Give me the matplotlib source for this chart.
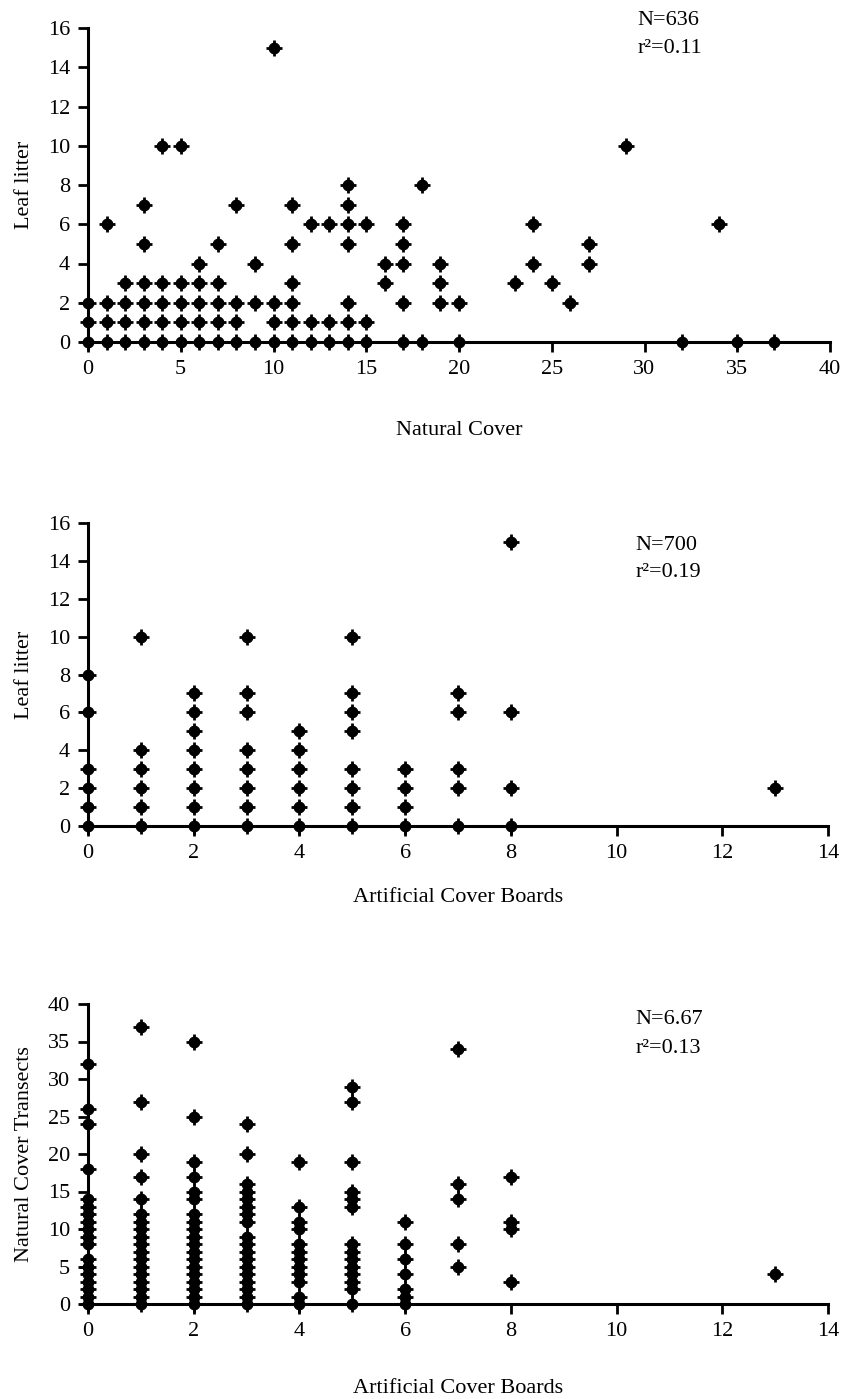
import matplotlib
matplotlib.use("Agg")
import matplotlib.pyplot as plt
import numpy as np

plt.rcParams['font.family'] = ['Liberation Serif', 'DejaVu Serif']

# Panel 1: leaf litter (y) vs natural cover (x); rows keyed by leaf litter value
natural_rows = {
    0: [0, 1, 2, 3, 4, 5, 6, 7, 8, 9, 10, 11, 12, 13, 14, 15, 17, 18, 20, 32, 35, 37],
    1: [0, 1, 2, 3, 4, 5, 6, 7, 8, 10, 11, 12, 13, 14, 15],
    2: [0, 1, 2, 3, 4, 5, 6, 7, 8, 9, 10, 11, 14, 17, 19, 20, 26],
    3: [2, 3, 4, 5, 6, 7, 11, 16, 19, 23, 25],
    4: [6, 9, 16, 17, 19, 24, 27],
    5: [3, 7, 11, 14, 17, 27],
    6: [1, 12, 13, 14, 15, 17, 24, 34],
    7: [3, 8, 11, 14],
    8: [14, 18],
    10: [4, 5, 29],
    15: [10],
}

# Panel 2: leaf litter (y) vs artificial cover boards (x); columns keyed by boards
boards_litter_cols = {
    0: [0, 1, 2, 3, 6, 8],
    1: [0, 1, 2, 3, 4, 10],
    2: [0, 1, 2, 3, 4, 5, 6, 7],
    3: [0, 1, 2, 3, 4, 6, 7, 10],
    4: [0, 1, 2, 3, 4, 5],
    5: [0, 1, 2, 3, 5, 6, 7, 10],
    6: [0, 1, 2, 3],
    7: [0, 2, 3, 6, 7],
    8: [0, 2, 6, 15],
    13: [2],
}

# Panel 3: natural cover transects (y) vs artificial cover boards (x)
boards_natural_cols = {
    0: [0, 1, 2, 3, 4, 5, 6, 8, 9, 10, 11, 12, 13, 14, 18, 24, 26, 32],
    1: [0, 1, 2, 3, 4, 5, 6, 7, 8, 9, 10, 11, 12, 14, 17, 20, 27, 37],
    2: [0, 1, 2, 3, 4, 5, 6, 7, 8, 9, 10, 11, 12, 14, 15, 17, 19, 25, 35],
    3: [0, 1, 2, 3, 4, 5, 6, 7, 8, 9, 11, 12, 13, 14, 15, 16, 20, 24],
    4: [0, 1, 3, 4, 5, 6, 7, 8, 10, 11, 13, 19],
    5: [0, 2, 3, 4, 5, 6, 7, 8, 13, 14, 15, 19, 27, 29],
    6: [0, 1, 2, 4, 6, 8, 11],
    7: [5, 8, 14, 16, 34],
    8: [3, 10, 11, 17],
    13: [4],
}

nat_x = [x for y, xs in natural_rows.items() for x in xs]
nat_y = [y for y, xs in natural_rows.items() for x in xs]
bl_x = [x for x, ys in boards_litter_cols.items() for y in ys]
bl_y = [y for x, ys in boards_litter_cols.items() for y in ys]
bn_x = [x for x, ys in boards_natural_cols.items() for y in ys]
bn_y = [y for x, ys in boards_natural_cols.items() for y in ys]

stats = [("N=636", "r\u00b2=0.11"), ("N=700", "r\u00b2=0.19"), ("N=6.67", "r\u00b2=0.13")]

W, H = 844, 1399
fig = plt.figure(figsize=(W / 100, H / 100), dpi=100)


def px_axes(left, right, top, bottom):
    return fig.add_axes([left / W, 1 - bottom / H, (right - left) / W, (bottom - top) / H])


def style(ax, xlim, xticks, ylim, yticks, xlabel, ylabel, xpad, ypad):
    for s in ['top', 'right']:
        ax.spines[s].set_visible(False)
    for s in ['left', 'bottom']:
        ax.spines[s].set_linewidth(2.2)
    ax.set_xlim(*xlim)
    ax.set_ylim(*ylim)
    ax.set_xticks(xticks)
    ax.set_yticks(yticks)
    ax.tick_params(direction='out', length=7, width=2, labelsize=16, pad=6)
    ax.set_xlabel(xlabel, fontsize=16, labelpad=xpad)
    ax.set_ylabel(ylabel, fontsize=16, labelpad=ypad)


def dots(ax, x, y):
    ax.plot(x, y, 'o', color='black', ms=7.5, clip_on=False, zorder=3)
    ax.plot(x, y, '+', color='black', ms=11.5, mew=2, clip_on=False, zorder=3)


ax1 = px_axes(88, 830, 28, 342)
dots(ax1, nat_x, nat_y)
style(ax1, (0, 40), range(0, 41, 5), (0, 16), range(0, 17, 2),
      "Natural Cover", "Leaf litter", 30, 10)
ax1.text(0.74, 1.025, stats[0][0], transform=ax1.transAxes, fontsize=16, va='center')
ax1.text(0.74, 0.935, stats[0][1], transform=ax1.transAxes, fontsize=16, va='center')

ax2 = px_axes(88, 828, 523, 826)
dots(ax2, bl_x, bl_y)
style(ax2, (0, 14), range(0, 15, 2), (0, 16), range(0, 17, 2),
      "Artificial Cover Boards", "Leaf litter", 18, 10)
ax2.text(0.74, 0.927, stats[1][0], transform=ax2.transAxes, fontsize=16, va='center')
ax2.text(0.74, 0.835, stats[1][1], transform=ax2.transAxes, fontsize=16, va='center')

ax3 = px_axes(88, 828, 1004, 1304)
dots(ax3, bn_x, bn_y)
style(ax3, (0, 14), range(0, 15, 2), (0, 40), range(0, 41, 5),
      "Artificial Cover Boards", "Natural Cover Transects", 27, 10)
ax3.text(0.74, 0.947, stats[2][0], transform=ax3.transAxes, fontsize=16, va='center')
ax3.text(0.74, 0.853, stats[2][1], transform=ax3.transAxes, fontsize=16, va='center')

fig.savefig("out.png", dpi=100)
